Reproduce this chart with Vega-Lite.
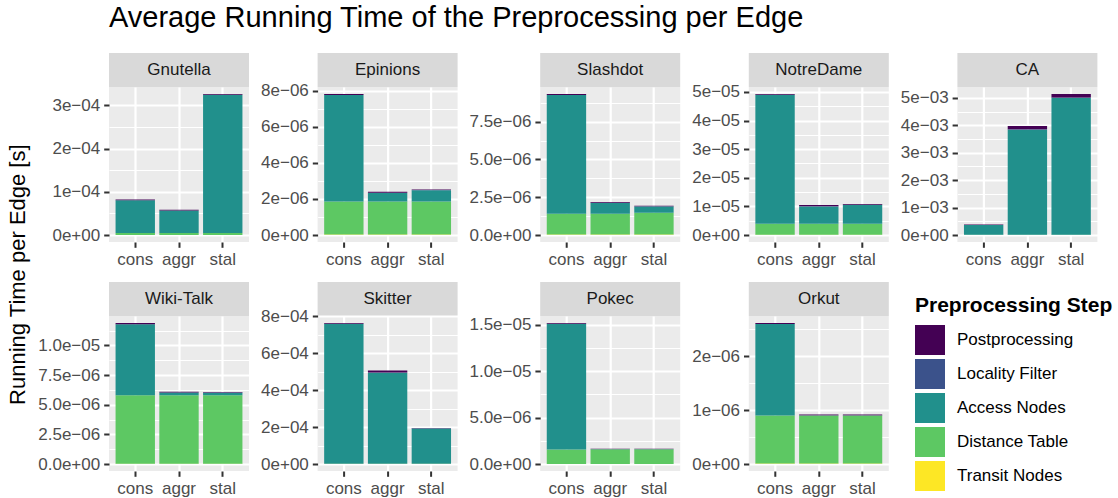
{
  "$schema": "https://vega.github.io/schema/vega-lite/v6.json",
  "background": "white",
  "padding": {"left": 6, "top": 4, "right": 4, "bottom": 2},
  "title": {"text": "Average Running Time of the Preprocessing per Edge", "anchor": "start", "frame": "group", "fontSize": 29, "fontWeight": "normal", "font": "Liberation Sans", "color": "#000000", "offset": 20, "dx": 0},
  "datasets": {
    "timings": [
      {"graph": "Gnutella", "variant": "cons", "step": "Transit Nodes", "time": 2e-7},
      {"graph": "Gnutella", "variant": "cons", "step": "Distance Table", "time": 4.5e-6},
      {"graph": "Gnutella", "variant": "cons", "step": "Access Nodes", "time": 7.58e-5},
      {"graph": "Gnutella", "variant": "cons", "step": "Postprocessing", "time": 1.5e-6},
      {"graph": "Gnutella", "variant": "aggr", "step": "Transit Nodes", "time": 2e-7},
      {"graph": "Gnutella", "variant": "aggr", "step": "Distance Table", "time": 4.5e-6},
      {"graph": "Gnutella", "variant": "aggr", "step": "Access Nodes", "time": 5.18e-5},
      {"graph": "Gnutella", "variant": "aggr", "step": "Locality Filter", "time": 3e-7},
      {"graph": "Gnutella", "variant": "aggr", "step": "Postprocessing", "time": 1.4e-6},
      {"graph": "Gnutella", "variant": "stal", "step": "Transit Nodes", "time": 2e-7},
      {"graph": "Gnutella", "variant": "stal", "step": "Distance Table", "time": 4.5e-6},
      {"graph": "Gnutella", "variant": "stal", "step": "Access Nodes", "time": 3.197e-4},
      {"graph": "Gnutella", "variant": "stal", "step": "Locality Filter", "time": 3e-7},
      {"graph": "Gnutella", "variant": "stal", "step": "Postprocessing", "time": 1.5e-6},

      {"graph": "Epinions", "variant": "cons", "step": "Transit Nodes", "time": 3e-8},
      {"graph": "Epinions", "variant": "cons", "step": "Distance Table", "time": 1.83e-6},
      {"graph": "Epinions", "variant": "cons", "step": "Access Nodes", "time": 5.9e-6},
      {"graph": "Epinions", "variant": "cons", "step": "Postprocessing", "time": 6e-8},
      {"graph": "Epinions", "variant": "aggr", "step": "Transit Nodes", "time": 3e-8},
      {"graph": "Epinions", "variant": "aggr", "step": "Distance Table", "time": 1.83e-6},
      {"graph": "Epinions", "variant": "aggr", "step": "Access Nodes", "time": 4.7e-7},
      {"graph": "Epinions", "variant": "aggr", "step": "Locality Filter", "time": 1e-8},
      {"graph": "Epinions", "variant": "aggr", "step": "Postprocessing", "time": 6e-8},
      {"graph": "Epinions", "variant": "stal", "step": "Transit Nodes", "time": 3e-8},
      {"graph": "Epinions", "variant": "stal", "step": "Distance Table", "time": 1.83e-6},
      {"graph": "Epinions", "variant": "stal", "step": "Access Nodes", "time": 6.2e-7},
      {"graph": "Epinions", "variant": "stal", "step": "Locality Filter", "time": 1e-8},
      {"graph": "Epinions", "variant": "stal", "step": "Postprocessing", "time": 4e-8},

      {"graph": "Slashdot", "variant": "cons", "step": "Transit Nodes", "time": 3e-8},
      {"graph": "Slashdot", "variant": "cons", "step": "Distance Table", "time": 1.38e-6},
      {"graph": "Slashdot", "variant": "cons", "step": "Access Nodes", "time": 7.85e-6},
      {"graph": "Slashdot", "variant": "cons", "step": "Postprocessing", "time": 7e-8},
      {"graph": "Slashdot", "variant": "aggr", "step": "Transit Nodes", "time": 3e-8},
      {"graph": "Slashdot", "variant": "aggr", "step": "Distance Table", "time": 1.38e-6},
      {"graph": "Slashdot", "variant": "aggr", "step": "Access Nodes", "time": 7.1e-7},
      {"graph": "Slashdot", "variant": "aggr", "step": "Locality Filter", "time": 1e-8},
      {"graph": "Slashdot", "variant": "aggr", "step": "Postprocessing", "time": 5e-8},
      {"graph": "Slashdot", "variant": "stal", "step": "Transit Nodes", "time": 3e-8},
      {"graph": "Slashdot", "variant": "stal", "step": "Distance Table", "time": 1.45e-6},
      {"graph": "Slashdot", "variant": "stal", "step": "Access Nodes", "time": 4.1e-7},
      {"graph": "Slashdot", "variant": "stal", "step": "Locality Filter", "time": 1e-8},
      {"graph": "Slashdot", "variant": "stal", "step": "Postprocessing", "time": 4e-8},

      {"graph": "NotreDame", "variant": "cons", "step": "Transit Nodes", "time": 5e-8},
      {"graph": "NotreDame", "variant": "cons", "step": "Distance Table", "time": 3.9e-6},
      {"graph": "NotreDame", "variant": "cons", "step": "Access Nodes", "time": 4.51e-5},
      {"graph": "NotreDame", "variant": "cons", "step": "Postprocessing", "time": 2.5e-7},
      {"graph": "NotreDame", "variant": "aggr", "step": "Transit Nodes", "time": 5e-8},
      {"graph": "NotreDame", "variant": "aggr", "step": "Distance Table", "time": 3.9e-6},
      {"graph": "NotreDame", "variant": "aggr", "step": "Access Nodes", "time": 6.05e-6},
      {"graph": "NotreDame", "variant": "aggr", "step": "Locality Filter", "time": 5e-8},
      {"graph": "NotreDame", "variant": "aggr", "step": "Postprocessing", "time": 4.5e-7},
      {"graph": "NotreDame", "variant": "stal", "step": "Transit Nodes", "time": 5e-8},
      {"graph": "NotreDame", "variant": "stal", "step": "Distance Table", "time": 3.9e-6},
      {"graph": "NotreDame", "variant": "stal", "step": "Access Nodes", "time": 6.6e-6},
      {"graph": "NotreDame", "variant": "stal", "step": "Locality Filter", "time": 5e-8},
      {"graph": "NotreDame", "variant": "stal", "step": "Postprocessing", "time": 2e-7},

      {"graph": "CA", "variant": "cons", "step": "Transit Nodes", "time": 3e-6},
      {"graph": "CA", "variant": "cons", "step": "Distance Table", "time": 5e-6},
      {"graph": "CA", "variant": "cons", "step": "Access Nodes", "time": 3.54e-4},
      {"graph": "CA", "variant": "cons", "step": "Postprocessing", "time": 2.5e-5},
      {"graph": "CA", "variant": "aggr", "step": "Transit Nodes", "time": 3e-6},
      {"graph": "CA", "variant": "aggr", "step": "Distance Table", "time": 5e-6},
      {"graph": "CA", "variant": "aggr", "step": "Access Nodes", "time": 3.83e-3},
      {"graph": "CA", "variant": "aggr", "step": "Locality Filter", "time": 2e-5},
      {"graph": "CA", "variant": "aggr", "step": "Postprocessing", "time": 1.1e-4},
      {"graph": "CA", "variant": "stal", "step": "Transit Nodes", "time": 3e-6},
      {"graph": "CA", "variant": "stal", "step": "Distance Table", "time": 5e-6},
      {"graph": "CA", "variant": "stal", "step": "Access Nodes", "time": 4.98e-3},
      {"graph": "CA", "variant": "stal", "step": "Locality Filter", "time": 2e-5},
      {"graph": "CA", "variant": "stal", "step": "Postprocessing", "time": 1.3e-4},

      {"graph": "Wiki-Talk", "variant": "cons", "step": "Transit Nodes", "time": 3e-8},
      {"graph": "Wiki-Talk", "variant": "cons", "step": "Distance Table", "time": 5.76e-6},
      {"graph": "Wiki-Talk", "variant": "cons", "step": "Access Nodes", "time": 6.0e-6},
      {"graph": "Wiki-Talk", "variant": "cons", "step": "Postprocessing", "time": 1e-7},
      {"graph": "Wiki-Talk", "variant": "aggr", "step": "Transit Nodes", "time": 3e-8},
      {"graph": "Wiki-Talk", "variant": "aggr", "step": "Distance Table", "time": 5.76e-6},
      {"graph": "Wiki-Talk", "variant": "aggr", "step": "Access Nodes", "time": 2.3e-7},
      {"graph": "Wiki-Talk", "variant": "aggr", "step": "Locality Filter", "time": 1e-8},
      {"graph": "Wiki-Talk", "variant": "aggr", "step": "Postprocessing", "time": 6e-8},
      {"graph": "Wiki-Talk", "variant": "stal", "step": "Transit Nodes", "time": 3e-8},
      {"graph": "Wiki-Talk", "variant": "stal", "step": "Distance Table", "time": 5.76e-6},
      {"graph": "Wiki-Talk", "variant": "stal", "step": "Access Nodes", "time": 2.2e-7},
      {"graph": "Wiki-Talk", "variant": "stal", "step": "Locality Filter", "time": 1e-8},
      {"graph": "Wiki-Talk", "variant": "stal", "step": "Postprocessing", "time": 6e-8},

      {"graph": "Skitter", "variant": "cons", "step": "Transit Nodes", "time": 1e-6},
      {"graph": "Skitter", "variant": "cons", "step": "Distance Table", "time": 1e-6},
      {"graph": "Skitter", "variant": "cons", "step": "Access Nodes", "time": 7.57e-4},
      {"graph": "Skitter", "variant": "cons", "step": "Postprocessing", "time": 4e-6},
      {"graph": "Skitter", "variant": "aggr", "step": "Transit Nodes", "time": 1e-6},
      {"graph": "Skitter", "variant": "aggr", "step": "Distance Table", "time": 1e-6},
      {"graph": "Skitter", "variant": "aggr", "step": "Access Nodes", "time": 4.92e-4},
      {"graph": "Skitter", "variant": "aggr", "step": "Locality Filter", "time": 1e-6},
      {"graph": "Skitter", "variant": "aggr", "step": "Postprocessing", "time": 1.1e-5},
      {"graph": "Skitter", "variant": "stal", "step": "Transit Nodes", "time": 1e-6},
      {"graph": "Skitter", "variant": "stal", "step": "Distance Table", "time": 1e-6},
      {"graph": "Skitter", "variant": "stal", "step": "Access Nodes", "time": 1.9e-4},
      {"graph": "Skitter", "variant": "stal", "step": "Locality Filter", "time": 1e-6},
      {"graph": "Skitter", "variant": "stal", "step": "Postprocessing", "time": 2e-6},

      {"graph": "Pokec", "variant": "cons", "step": "Transit Nodes", "time": 1e-8},
      {"graph": "Pokec", "variant": "cons", "step": "Distance Table", "time": 1.55e-6},
      {"graph": "Pokec", "variant": "cons", "step": "Access Nodes", "time": 1.355e-5},
      {"graph": "Pokec", "variant": "cons", "step": "Postprocessing", "time": 9e-8},
      {"graph": "Pokec", "variant": "aggr", "step": "Transit Nodes", "time": 1e-8},
      {"graph": "Pokec", "variant": "aggr", "step": "Distance Table", "time": 1.57e-6},
      {"graph": "Pokec", "variant": "aggr", "step": "Access Nodes", "time": 2e-8},
      {"graph": "Pokec", "variant": "aggr", "step": "Locality Filter", "time": 5e-9},
      {"graph": "Pokec", "variant": "aggr", "step": "Postprocessing", "time": 5e-8},
      {"graph": "Pokec", "variant": "stal", "step": "Transit Nodes", "time": 1e-8},
      {"graph": "Pokec", "variant": "stal", "step": "Distance Table", "time": 1.57e-6},
      {"graph": "Pokec", "variant": "stal", "step": "Access Nodes", "time": 2e-8},
      {"graph": "Pokec", "variant": "stal", "step": "Locality Filter", "time": 5e-9},
      {"graph": "Pokec", "variant": "stal", "step": "Postprocessing", "time": 5e-8},

      {"graph": "Orkut", "variant": "cons", "step": "Transit Nodes", "time": 1e-8},
      {"graph": "Orkut", "variant": "cons", "step": "Distance Table", "time": 8.9e-7},
      {"graph": "Orkut", "variant": "cons", "step": "Access Nodes", "time": 1.70e-6},
      {"graph": "Orkut", "variant": "cons", "step": "Postprocessing", "time": 2e-8},
      {"graph": "Orkut", "variant": "aggr", "step": "Transit Nodes", "time": 1e-8},
      {"graph": "Orkut", "variant": "aggr", "step": "Distance Table", "time": 8.9e-7},
      {"graph": "Orkut", "variant": "aggr", "step": "Access Nodes", "time": 3e-9},
      {"graph": "Orkut", "variant": "aggr", "step": "Locality Filter", "time": 2e-9},
      {"graph": "Orkut", "variant": "aggr", "step": "Postprocessing", "time": 1.5e-8},
      {"graph": "Orkut", "variant": "stal", "step": "Transit Nodes", "time": 1e-8},
      {"graph": "Orkut", "variant": "stal", "step": "Distance Table", "time": 8.9e-7},
      {"graph": "Orkut", "variant": "stal", "step": "Access Nodes", "time": 3e-9},
      {"graph": "Orkut", "variant": "stal", "step": "Locality Filter", "time": 2e-9},
      {"graph": "Orkut", "variant": "stal", "step": "Postprocessing", "time": 1.5e-8}
    ]
  },
  "data": {"name": "timings"},
  "vconcat": [
    {
      "title": {"text": "Running Time per Edge [s]", "orient": "left", "anchor": "middle", "fontSize": 22, "fontWeight": "normal", "font": "Liberation Sans", "color": "#000000", "offset": 8},
      "columns": 5,
      "align": "each",
      "spacing": {"row": 14, "column": 10.6},
      "concat": [
        {
          "spacing": 0, "bounds": "flush",
          "vconcat": [
            {"width": 140, "height": 34, "view": {"fill": "#D9D9D9", "stroke": null},
             "transform": [{"filter": "datum.graph == 'Gnutella'"}, {"aggregate": [], "groupby": ["graph"]}],
             "mark": {"type": "text", "fontSize": 17, "color": "#1A1A1A", "baseline": "middle", "align": "center"},
             "encoding": {"text": {"field": "graph"}}},
            {"width": 140, "height": 155, "view": {"fill": "#EBEBEB", "stroke": null},
             "transform": [{"filter": "datum.graph == 'Gnutella'"}, {"calculate": "indexof(['Transit Nodes', 'Distance Table', 'Access Nodes', 'Locality Filter', 'Postprocessing'], datum.step)", "as": "stackRank"}],
             "encoding": {"x": {"field": "variant", "type": "nominal", "sort": ["cons", "aggr", "stal"], "scale": {"paddingInner": 0.1, "paddingOuter": 0.15}, "axis": {"title": null, "grid": true, "bandPosition": 0.5, "labelAngle": 0}}},
             "layer": [
               {"mark": {"type": "bar", "opacity": 0},
                "encoding": {"y": {"field": "time", "type": "quantitative", "scale": {"padding": 7, "nice": false, "zero": true}, "axis": {"orient": "right", "values": [5e-5, 1.5e-4, 2.5e-4], "grid": true, "gridWidth": 1.1, "labels": false, "ticks": false, "title": null}}, "detail": {"field": "step"}}},
               {"mark": {"type": "bar"},
                "encoding": {"y": {"field": "time", "type": "quantitative", "scale": {"padding": 7, "nice": false, "zero": true}, "axis": {"orient": "left", "values": [0, 1e-4, 2e-4, 3e-4], "grid": true, "title": null, "labelExpr": "datum.value == 0 ? '0e+00' : format(datum.value / pow(10, floor(log(datum.value) / LN10 + 1e-9)), '.0f') + 'e−' + format(-floor(log(datum.value) / LN10 + 1e-9), '02d')"}},
                  "color": {"field": "step", "type": "nominal", "title": "Preprocessing Step", "scale": {"domain": ["Postprocessing", "Locality Filter", "Access Nodes", "Distance Table", "Transit Nodes"], "range": ["#440154", "#3B528B", "#21908C", "#5DC863", "#FDE725"]}},
                  "order": {"field": "stackRank", "type": "quantitative"}}}
             ]}
          ]
        },
        {
          "spacing": 0, "bounds": "flush",
          "vconcat": [
            {"width": 140, "height": 34, "view": {"fill": "#D9D9D9", "stroke": null},
             "transform": [{"filter": "datum.graph == 'Epinions'"}, {"aggregate": [], "groupby": ["graph"]}],
             "mark": {"type": "text", "fontSize": 17, "color": "#1A1A1A", "baseline": "middle", "align": "center"},
             "encoding": {"text": {"field": "graph"}}},
            {"width": 140, "height": 155, "view": {"fill": "#EBEBEB", "stroke": null},
             "transform": [{"filter": "datum.graph == 'Epinions'"}, {"calculate": "indexof(['Transit Nodes', 'Distance Table', 'Access Nodes', 'Locality Filter', 'Postprocessing'], datum.step)", "as": "stackRank"}],
             "encoding": {"x": {"field": "variant", "type": "nominal", "sort": ["cons", "aggr", "stal"], "scale": {"paddingInner": 0.1, "paddingOuter": 0.15}, "axis": {"title": null, "grid": true, "bandPosition": 0.5, "labelAngle": 0}}},
             "layer": [
               {"mark": {"type": "bar", "opacity": 0},
                "encoding": {"y": {"field": "time", "type": "quantitative", "scale": {"padding": 7, "nice": false, "zero": true}, "axis": {"orient": "right", "values": [1e-6, 3e-6, 5e-6, 7e-6], "grid": true, "gridWidth": 1.1, "labels": false, "ticks": false, "title": null}}, "detail": {"field": "step"}}},
               {"mark": {"type": "bar"},
                "encoding": {"y": {"field": "time", "type": "quantitative", "scale": {"padding": 7, "nice": false, "zero": true}, "axis": {"orient": "left", "values": [0, 2e-6, 4e-6, 6e-6, 8e-6], "grid": true, "title": null, "labelExpr": "datum.value == 0 ? '0e+00' : format(datum.value / pow(10, floor(log(datum.value) / LN10 + 1e-9)), '.0f') + 'e−' + format(-floor(log(datum.value) / LN10 + 1e-9), '02d')"}},
                  "color": {"field": "step", "type": "nominal", "title": "Preprocessing Step", "scale": {"domain": ["Postprocessing", "Locality Filter", "Access Nodes", "Distance Table", "Transit Nodes"], "range": ["#440154", "#3B528B", "#21908C", "#5DC863", "#FDE725"]}},
                  "order": {"field": "stackRank", "type": "quantitative"}}}
             ]}
          ]
        },
        {
          "spacing": 0, "bounds": "flush",
          "vconcat": [
            {"width": 140, "height": 34, "view": {"fill": "#D9D9D9", "stroke": null},
             "transform": [{"filter": "datum.graph == 'Slashdot'"}, {"aggregate": [], "groupby": ["graph"]}],
             "mark": {"type": "text", "fontSize": 17, "color": "#1A1A1A", "baseline": "middle", "align": "center"},
             "encoding": {"text": {"field": "graph"}}},
            {"width": 140, "height": 155, "view": {"fill": "#EBEBEB", "stroke": null},
             "transform": [{"filter": "datum.graph == 'Slashdot'"}, {"calculate": "indexof(['Transit Nodes', 'Distance Table', 'Access Nodes', 'Locality Filter', 'Postprocessing'], datum.step)", "as": "stackRank"}],
             "encoding": {"x": {"field": "variant", "type": "nominal", "sort": ["cons", "aggr", "stal"], "scale": {"paddingInner": 0.1, "paddingOuter": 0.15}, "axis": {"title": null, "grid": true, "bandPosition": 0.5, "labelAngle": 0}}},
             "layer": [
               {"mark": {"type": "bar", "opacity": 0},
                "encoding": {"y": {"field": "time", "type": "quantitative", "scale": {"padding": 7, "nice": false, "zero": true}, "axis": {"orient": "right", "values": [1.25e-6, 3.75e-6, 6.25e-6, 8.75e-6], "grid": true, "gridWidth": 1.1, "labels": false, "ticks": false, "title": null}}, "detail": {"field": "step"}}},
               {"mark": {"type": "bar"},
                "encoding": {"y": {"field": "time", "type": "quantitative", "scale": {"padding": 7, "nice": false, "zero": true}, "axis": {"orient": "left", "values": [0, 2.5e-6, 5e-6, 7.5e-6], "grid": true, "title": null, "labelExpr": "datum.value == 0 ? '0.0e+00' : format(datum.value / pow(10, floor(log(datum.value) / LN10 + 1e-9)), '.1f') + 'e−' + format(-floor(log(datum.value) / LN10 + 1e-9), '02d')"}},
                  "color": {"field": "step", "type": "nominal", "title": "Preprocessing Step", "scale": {"domain": ["Postprocessing", "Locality Filter", "Access Nodes", "Distance Table", "Transit Nodes"], "range": ["#440154", "#3B528B", "#21908C", "#5DC863", "#FDE725"]}},
                  "order": {"field": "stackRank", "type": "quantitative"}}}
             ]}
          ]
        },
        {
          "spacing": 0, "bounds": "flush",
          "vconcat": [
            {"width": 140, "height": 34, "view": {"fill": "#D9D9D9", "stroke": null},
             "transform": [{"filter": "datum.graph == 'NotreDame'"}, {"aggregate": [], "groupby": ["graph"]}],
             "mark": {"type": "text", "fontSize": 17, "color": "#1A1A1A", "baseline": "middle", "align": "center"},
             "encoding": {"text": {"field": "graph"}}},
            {"width": 140, "height": 155, "view": {"fill": "#EBEBEB", "stroke": null},
             "transform": [{"filter": "datum.graph == 'NotreDame'"}, {"calculate": "indexof(['Transit Nodes', 'Distance Table', 'Access Nodes', 'Locality Filter', 'Postprocessing'], datum.step)", "as": "stackRank"}],
             "encoding": {"x": {"field": "variant", "type": "nominal", "sort": ["cons", "aggr", "stal"], "scale": {"paddingInner": 0.1, "paddingOuter": 0.15}, "axis": {"title": null, "grid": true, "bandPosition": 0.5, "labelAngle": 0}}},
             "layer": [
               {"mark": {"type": "bar", "opacity": 0},
                "encoding": {"y": {"field": "time", "type": "quantitative", "scale": {"padding": 7, "nice": false, "zero": true}, "axis": {"orient": "right", "values": [5e-6, 1.5e-5, 2.5e-5, 3.5e-5, 4.5e-5], "grid": true, "gridWidth": 1.1, "labels": false, "ticks": false, "title": null}}, "detail": {"field": "step"}}},
               {"mark": {"type": "bar"},
                "encoding": {"y": {"field": "time", "type": "quantitative", "scale": {"padding": 7, "nice": false, "zero": true}, "axis": {"orient": "left", "values": [0, 1e-5, 2e-5, 3e-5, 4e-5, 5e-5], "grid": true, "title": null, "labelExpr": "datum.value == 0 ? '0e+00' : format(datum.value / pow(10, floor(log(datum.value) / LN10 + 1e-9)), '.0f') + 'e−' + format(-floor(log(datum.value) / LN10 + 1e-9), '02d')"}},
                  "color": {"field": "step", "type": "nominal", "title": "Preprocessing Step", "scale": {"domain": ["Postprocessing", "Locality Filter", "Access Nodes", "Distance Table", "Transit Nodes"], "range": ["#440154", "#3B528B", "#21908C", "#5DC863", "#FDE725"]}},
                  "order": {"field": "stackRank", "type": "quantitative"}}}
             ]}
          ]
        },
        {
          "spacing": 0, "bounds": "flush",
          "vconcat": [
            {"width": 140, "height": 34, "view": {"fill": "#D9D9D9", "stroke": null},
             "transform": [{"filter": "datum.graph == 'CA'"}, {"aggregate": [], "groupby": ["graph"]}],
             "mark": {"type": "text", "fontSize": 17, "color": "#1A1A1A", "baseline": "middle", "align": "center"},
             "encoding": {"text": {"field": "graph"}}},
            {"width": 140, "height": 155, "view": {"fill": "#EBEBEB", "stroke": null},
             "transform": [{"filter": "datum.graph == 'CA'"}, {"calculate": "indexof(['Transit Nodes', 'Distance Table', 'Access Nodes', 'Locality Filter', 'Postprocessing'], datum.step)", "as": "stackRank"}],
             "encoding": {"x": {"field": "variant", "type": "nominal", "sort": ["cons", "aggr", "stal"], "scale": {"paddingInner": 0.1, "paddingOuter": 0.15}, "axis": {"title": null, "grid": true, "bandPosition": 0.5, "labelAngle": 0}}},
             "layer": [
               {"mark": {"type": "bar", "opacity": 0},
                "encoding": {"y": {"field": "time", "type": "quantitative", "scale": {"padding": 7, "nice": false, "zero": true}, "axis": {"orient": "right", "values": [5e-4, 1.5e-3, 2.5e-3, 3.5e-3, 4.5e-3], "grid": true, "gridWidth": 1.1, "labels": false, "ticks": false, "title": null}}, "detail": {"field": "step"}}},
               {"mark": {"type": "bar"},
                "encoding": {"y": {"field": "time", "type": "quantitative", "scale": {"padding": 7, "nice": false, "zero": true}, "axis": {"orient": "left", "values": [0, 1e-3, 2e-3, 3e-3, 4e-3, 5e-3], "grid": true, "title": null, "labelExpr": "datum.value == 0 ? '0e+00' : format(datum.value / pow(10, floor(log(datum.value) / LN10 + 1e-9)), '.0f') + 'e−' + format(-floor(log(datum.value) / LN10 + 1e-9), '02d')"}},
                  "color": {"field": "step", "type": "nominal", "title": "Preprocessing Step", "scale": {"domain": ["Postprocessing", "Locality Filter", "Access Nodes", "Distance Table", "Transit Nodes"], "range": ["#440154", "#3B528B", "#21908C", "#5DC863", "#FDE725"]}},
                  "order": {"field": "stackRank", "type": "quantitative"}}}
             ]}
          ]
        },
        {
          "spacing": 0, "bounds": "flush",
          "vconcat": [
            {"width": 140, "height": 34, "view": {"fill": "#D9D9D9", "stroke": null},
             "transform": [{"filter": "datum.graph == 'Wiki-Talk'"}, {"aggregate": [], "groupby": ["graph"]}],
             "mark": {"type": "text", "fontSize": 17, "color": "#1A1A1A", "baseline": "middle", "align": "center"},
             "encoding": {"text": {"field": "graph"}}},
            {"width": 140, "height": 155, "view": {"fill": "#EBEBEB", "stroke": null},
             "transform": [{"filter": "datum.graph == 'Wiki-Talk'"}, {"calculate": "indexof(['Transit Nodes', 'Distance Table', 'Access Nodes', 'Locality Filter', 'Postprocessing'], datum.step)", "as": "stackRank"}],
             "encoding": {"x": {"field": "variant", "type": "nominal", "sort": ["cons", "aggr", "stal"], "scale": {"paddingInner": 0.1, "paddingOuter": 0.15}, "axis": {"title": null, "grid": true, "bandPosition": 0.5, "labelAngle": 0}}},
             "layer": [
               {"mark": {"type": "bar", "opacity": 0},
                "encoding": {"y": {"field": "time", "type": "quantitative", "scale": {"padding": 7, "nice": false, "zero": true}, "axis": {"orient": "right", "values": [1.25e-6, 3.75e-6, 6.25e-6, 8.75e-6, 1.125e-5], "grid": true, "gridWidth": 1.1, "labels": false, "ticks": false, "title": null}}, "detail": {"field": "step"}}},
               {"mark": {"type": "bar"},
                "encoding": {"y": {"field": "time", "type": "quantitative", "scale": {"padding": 7, "nice": false, "zero": true}, "axis": {"orient": "left", "values": [0, 2.5e-6, 5e-6, 7.5e-6, 1e-5], "grid": true, "title": null, "labelExpr": "datum.value == 0 ? '0.0e+00' : format(datum.value / pow(10, floor(log(datum.value) / LN10 + 1e-9)), '.1f') + 'e−' + format(-floor(log(datum.value) / LN10 + 1e-9), '02d')"}},
                  "color": {"field": "step", "type": "nominal", "title": "Preprocessing Step", "scale": {"domain": ["Postprocessing", "Locality Filter", "Access Nodes", "Distance Table", "Transit Nodes"], "range": ["#440154", "#3B528B", "#21908C", "#5DC863", "#FDE725"]}},
                  "order": {"field": "stackRank", "type": "quantitative"}}}
             ]}
          ]
        },
        {
          "spacing": 0, "bounds": "flush",
          "vconcat": [
            {"width": 140, "height": 34, "view": {"fill": "#D9D9D9", "stroke": null},
             "transform": [{"filter": "datum.graph == 'Skitter'"}, {"aggregate": [], "groupby": ["graph"]}],
             "mark": {"type": "text", "fontSize": 17, "color": "#1A1A1A", "baseline": "middle", "align": "center"},
             "encoding": {"text": {"field": "graph"}}},
            {"width": 140, "height": 155, "view": {"fill": "#EBEBEB", "stroke": null},
             "transform": [{"filter": "datum.graph == 'Skitter'"}, {"calculate": "indexof(['Transit Nodes', 'Distance Table', 'Access Nodes', 'Locality Filter', 'Postprocessing'], datum.step)", "as": "stackRank"}],
             "encoding": {"x": {"field": "variant", "type": "nominal", "sort": ["cons", "aggr", "stal"], "scale": {"paddingInner": 0.1, "paddingOuter": 0.15}, "axis": {"title": null, "grid": true, "bandPosition": 0.5, "labelAngle": 0}}},
             "layer": [
               {"mark": {"type": "bar", "opacity": 0},
                "encoding": {"y": {"field": "time", "type": "quantitative", "scale": {"padding": 7, "nice": false, "zero": true}, "axis": {"orient": "right", "values": [1e-4, 3e-4, 5e-4, 7e-4], "grid": true, "gridWidth": 1.1, "labels": false, "ticks": false, "title": null}}, "detail": {"field": "step"}}},
               {"mark": {"type": "bar"},
                "encoding": {"y": {"field": "time", "type": "quantitative", "scale": {"padding": 7, "nice": false, "zero": true}, "axis": {"orient": "left", "values": [0, 2e-4, 4e-4, 6e-4, 8e-4], "grid": true, "title": null, "labelExpr": "datum.value == 0 ? '0e+00' : format(datum.value / pow(10, floor(log(datum.value) / LN10 + 1e-9)), '.0f') + 'e−' + format(-floor(log(datum.value) / LN10 + 1e-9), '02d')"}},
                  "color": {"field": "step", "type": "nominal", "title": "Preprocessing Step", "scale": {"domain": ["Postprocessing", "Locality Filter", "Access Nodes", "Distance Table", "Transit Nodes"], "range": ["#440154", "#3B528B", "#21908C", "#5DC863", "#FDE725"]}},
                  "order": {"field": "stackRank", "type": "quantitative"}}}
             ]}
          ]
        },
        {
          "spacing": 0, "bounds": "flush",
          "vconcat": [
            {"width": 140, "height": 34, "view": {"fill": "#D9D9D9", "stroke": null},
             "transform": [{"filter": "datum.graph == 'Pokec'"}, {"aggregate": [], "groupby": ["graph"]}],
             "mark": {"type": "text", "fontSize": 17, "color": "#1A1A1A", "baseline": "middle", "align": "center"},
             "encoding": {"text": {"field": "graph"}}},
            {"width": 140, "height": 155, "view": {"fill": "#EBEBEB", "stroke": null},
             "transform": [{"filter": "datum.graph == 'Pokec'"}, {"calculate": "indexof(['Transit Nodes', 'Distance Table', 'Access Nodes', 'Locality Filter', 'Postprocessing'], datum.step)", "as": "stackRank"}],
             "encoding": {"x": {"field": "variant", "type": "nominal", "sort": ["cons", "aggr", "stal"], "scale": {"paddingInner": 0.1, "paddingOuter": 0.15}, "axis": {"title": null, "grid": true, "bandPosition": 0.5, "labelAngle": 0}}},
             "layer": [
               {"mark": {"type": "bar", "opacity": 0},
                "encoding": {"y": {"field": "time", "type": "quantitative", "scale": {"padding": 7, "nice": false, "zero": true}, "axis": {"orient": "right", "values": [2.5e-6, 7.5e-6, 1.25e-5], "grid": true, "gridWidth": 1.1, "labels": false, "ticks": false, "title": null}}, "detail": {"field": "step"}}},
               {"mark": {"type": "bar"},
                "encoding": {"y": {"field": "time", "type": "quantitative", "scale": {"padding": 7, "nice": false, "zero": true}, "axis": {"orient": "left", "values": [0, 5e-6, 1e-5, 1.5e-5], "grid": true, "title": null, "labelExpr": "datum.value == 0 ? '0.0e+00' : format(datum.value / pow(10, floor(log(datum.value) / LN10 + 1e-9)), '.1f') + 'e−' + format(-floor(log(datum.value) / LN10 + 1e-9), '02d')"}},
                  "color": {"field": "step", "type": "nominal", "title": "Preprocessing Step", "scale": {"domain": ["Postprocessing", "Locality Filter", "Access Nodes", "Distance Table", "Transit Nodes"], "range": ["#440154", "#3B528B", "#21908C", "#5DC863", "#FDE725"]}},
                  "order": {"field": "stackRank", "type": "quantitative"}}}
             ]}
          ]
        },
        {
          "spacing": 0, "bounds": "flush",
          "vconcat": [
            {"width": 140, "height": 34, "view": {"fill": "#D9D9D9", "stroke": null},
             "transform": [{"filter": "datum.graph == 'Orkut'"}, {"aggregate": [], "groupby": ["graph"]}],
             "mark": {"type": "text", "fontSize": 17, "color": "#1A1A1A", "baseline": "middle", "align": "center"},
             "encoding": {"text": {"field": "graph"}}},
            {"width": 140, "height": 155, "view": {"fill": "#EBEBEB", "stroke": null},
             "transform": [{"filter": "datum.graph == 'Orkut'"}, {"calculate": "indexof(['Transit Nodes', 'Distance Table', 'Access Nodes', 'Locality Filter', 'Postprocessing'], datum.step)", "as": "stackRank"}],
             "encoding": {"x": {"field": "variant", "type": "nominal", "sort": ["cons", "aggr", "stal"], "scale": {"paddingInner": 0.1, "paddingOuter": 0.15}, "axis": {"title": null, "grid": true, "bandPosition": 0.5, "labelAngle": 0}}},
             "layer": [
               {"mark": {"type": "bar", "opacity": 0},
                "encoding": {"y": {"field": "time", "type": "quantitative", "scale": {"padding": 7, "nice": false, "zero": true}, "axis": {"orient": "right", "values": [5e-7, 1.5e-6, 2.5e-6], "grid": true, "gridWidth": 1.1, "labels": false, "ticks": false, "title": null}}, "detail": {"field": "step"}}},
               {"mark": {"type": "bar"},
                "encoding": {"y": {"field": "time", "type": "quantitative", "scale": {"padding": 7, "nice": false, "zero": true}, "axis": {"orient": "left", "values": [0, 1e-6, 2e-6], "grid": true, "title": null, "labelExpr": "datum.value == 0 ? '0e+00' : format(datum.value / pow(10, floor(log(datum.value) / LN10 + 1e-9)), '.0f') + 'e−' + format(-floor(log(datum.value) / LN10 + 1e-9), '02d')"}},
                  "color": {"field": "step", "type": "nominal", "title": "Preprocessing Step", "scale": {"domain": ["Postprocessing", "Locality Filter", "Access Nodes", "Distance Table", "Transit Nodes"], "range": ["#440154", "#3B528B", "#21908C", "#5DC863", "#FDE725"]}},
                  "order": {"field": "stackRank", "type": "quantitative"}}}
             ]}
          ]
        }
      ]
    }
  ],
  "config": {
    "font": "Liberation Sans",
    "view": {"stroke": null},
    "axis": {"labelFont": "Liberation Sans", "labelFontSize": 17, "labelColor": "#4D4D4D", "tickColor": "#333333", "tickSize": 5.3, "tickWidth": 2, "labelPadding": 4, "domain": false, "gridColor": "#FFFFFF", "gridWidth": 2.2, "gridOpacity": 1},
    "legend": {"orient": "none", "legendX": 806, "legendY": 242, "titleFont": "Liberation Sans", "titleFontSize": 21, "titleFontWeight": "bold", "titleColor": "#000000", "titlePadding": 9, "titleLimit": 400, "labelLimit": 300, "labelFont": "Liberation Sans", "labelFontSize": 17, "labelColor": "#000000", "symbolType": "square", "symbolSize": 900, "symbolStrokeWidth": 0, "symbolOpacity": 1, "rowPadding": 4, "labelOffset": 12}
  }
}
